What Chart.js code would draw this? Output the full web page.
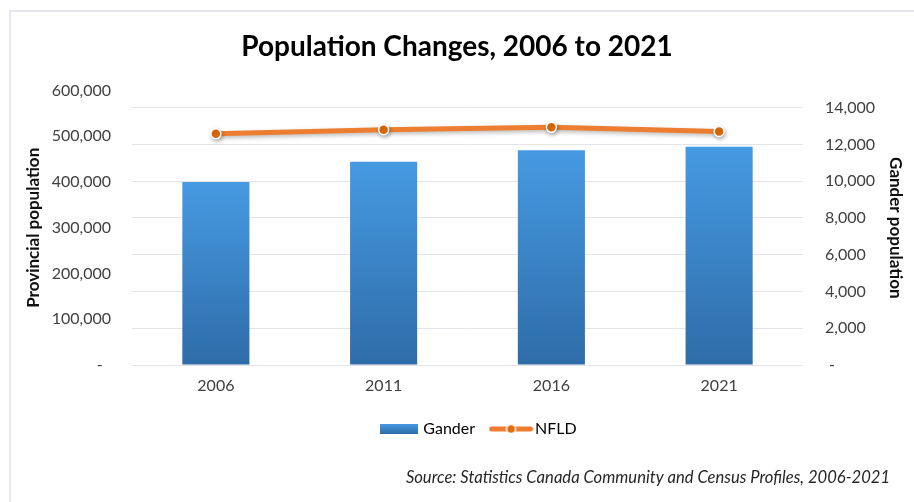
<!DOCTYPE html>
<html>
<head>
<meta charset="utf-8">
<title>Population Changes, 2006 to 2021</title>
<script src="https://cdn.jsdelivr.net/npm/chart.js@4.4.1/dist/chart.umd.min.js"></script>
<style>
    html, body { margin: 0; padding: 0; background: #fff; }
    #wrap { position: relative; width: 914px; height: 502px; overflow: hidden; }
    #frame { position: absolute; left: 9px; top: 10px; right: -10px; bottom: -10px;
             border-left: 2px solid #e6e6ef; border-top: 2px solid #e6e6ef; }
    #chartPop { position: absolute; left: 0; top: 0; }
</style>
</head>
<body>
<div id="wrap">
    <div id="frame"></div>
    <canvas id="chartPop" width="914" height="502"></canvas>
</div>
<script>
// census years and populations
const years = ['2006', '2011', '2016', '2021']
const ganderPop = [9951, 11054, 11688, 11880]
const nfldPop = [505469, 514536, 519716, 510550]

// axis ranges
const provMax = 600000
const provStep = 100000
const ganderMax = 14930
const ganderStep = 2000

const sourceNote = 'Source: Statistics Canada Community and Census Profiles, 2006-2021'

const BAR_TOP = '#469ae2'
const BAR_BOTTOM = '#2e6ca8'
const LINE_COLOR = '#ed7d31'
const POINT_COLOR = '#e46c0a'

Chart.defaults.font.family = 'Lato, "Open Sans", sans-serif'
Chart.defaults.color = '#404040'

// legend swatches
function swatchBar() {
    const c = document.createElement('canvas')
    c.width = 38; c.height = 10
    const x = c.getContext('2d')
    const g = x.createLinearGradient(0, 0, 0, 10)
    g.addColorStop(0, BAR_TOP); g.addColorStop(1, BAR_BOTTOM)
    x.fillStyle = g
    x.fillRect(0, 0, 38, 10)
    return c
}
function swatchLine() {
    const c = document.createElement('canvas')
    c.width = 45; c.height = 12
    const x = c.getContext('2d')
    x.strokeStyle = LINE_COLOR
    x.lineWidth = 5
    x.lineCap = 'round'
    x.beginPath(); x.moveTo(3, 6); x.lineTo(42, 6); x.stroke()
    x.fillStyle = POINT_COLOR
    x.strokeStyle = '#fff'
    x.lineWidth = 1.5
    x.beginPath(); x.arc(22.5, 6, 4.5, 0, Math.PI * 2); x.fill(); x.stroke()
    return c
}

const fmt = (v, zero) => (v === 0 ? zero : v.toLocaleString('en-US'))

// soft drop shadow under the NFLD line
const lineShadow = {
    id: 'lineShadow',
    beforeDatasetDraw(chart, args) {
        if (chart.data.datasets[args.index].type !== 'line') return
        const ctx = chart.ctx
        ctx.save()
        ctx.shadowColor = 'rgba(0,0,0,0.28)'
        ctx.shadowBlur = 4
        ctx.shadowOffsetX = 1
        ctx.shadowOffsetY = 2
    },
    afterDatasetDraw(chart, args) {
        if (chart.data.datasets[args.index].type !== 'line') return
        chart.ctx.restore()
    }
}

// nudge the legend a bit right of the page centre
const legendShift = {
    id: 'legendShift',
    afterLayout(chart) {
        const lg = chart.legend
        if (!lg) return
        lg.left += 23
        lg.right += 23
    }
}

// source line in the bottom right corner
const sourceText = {
    id: 'sourceText',
    afterDraw(chart) {
        const ctx = chart.ctx
        ctx.save()
        ctx.font = 'italic 16.6px Lato, "Open Sans", sans-serif'
        ctx.fillStyle = '#262626'
        ctx.textAlign = 'right'
        ctx.textBaseline = 'middle'
        ctx.fillText(sourceNote, chart.width - 24, 478)
        ctx.restore()
    }
}

new Chart(document.getElementById('chartPop'), {
    data: {
        labels: years,
        datasets: [{
            type: 'bar',
            label: 'Gander',
            data: ganderPop,
            yAxisID: 'y1',
            order: 1,
            backgroundColor: c => {
                const { chart } = c
                if (!chart.chartArea || c.type !== 'data') return BAR_TOP
                const sc = chart.scales.y1
                const g = chart.ctx.createLinearGradient(0, sc.getPixelForValue(c.raw), 0, sc.getPixelForValue(0))
                g.addColorStop(0, BAR_TOP)
                g.addColorStop(1, BAR_BOTTOM)
                return g
            },
            borderWidth: 0,
            categoryPercentage: 1,
            barPercentage: 0.4
        }, {
            type: 'line',
            label: 'NFLD',
            data: nfldPop,
            yAxisID: 'y',
            order: 0,
            borderColor: LINE_COLOR,
            borderWidth: 5,
            borderCapStyle: 'round',
            pointRadius: 5,
            pointBorderWidth: 1.5,
            pointBackgroundColor: POINT_COLOR,
            pointBorderColor: '#fff',
            tension: 0
        }]
    },
    plugins: [lineShadow, legendShift, sourceText],
    options: {
        responsive: false,
        animation: false,
        events: [],
        layout: { padding: { left: 6, right: 6, top: 0, bottom: 55 } },
        scales: {
            x: {
                grid: { display: false, drawTicks: false },
                border: { display: false },
                ticks: { padding: 11, font: { size: 16 }, color: '#404040' },
                afterFit: s => { s.height = 36 }
            },
            y: {
                position: 'left',
                min: 0,
                max: provMax,
                grid: { display: false, drawTicks: false },
                border: { display: false },
                ticks: {
                    stepSize: provStep,
                    padding: 21,
                    font: { size: 16 },
                    color: '#404040',
                    callback: v => fmt(v, '-  ')
                },
                title: {
                    display: true,
                    text: 'Provincial population',
                    color: '#111',
                    font: { size: 17, weight: 'bold' },
                    padding: { top: 17, bottom: 0 }
                },
                afterFit: s => { s.width = 126 }
            },
            y1: {
                position: 'right',
                min: 0,
                max: ganderMax,
                grid: { color: '#e3e3ea', lineWidth: 1, drawTicks: false },
                border: { display: false },
                // ticks every 2,000 up to the last one that fits
                afterBuildTicks: s => {
                    const t = []
                    for (let v = 0; v <= s.max; v += ganderStep) t.push({ value: v })
                    s.ticks = t
                },
                ticks: {
                    padding: 22,
                    font: { size: 16 },
                    color: '#404040',
                    callback: v => fmt(v, ' -')
                },
                title: {
                    display: true,
                    text: 'Gander population',
                    color: '#111',
                    font: { size: 17, weight: 'bold' },
                    padding: { top: 2, bottom: 0 }
                },
                afterFit: s => { s.width = 105 }
            }
        },
        plugins: {
            title: {
                display: true,
                text: 'Population Changes, 2006 to 2021',
                color: '#000',
                font: { size: 28, weight: 'bold' },
                padding: { top: 30, bottom: 27 }
            },
            legend: {
                position: 'bottom',
                labels: {
                    usePointStyle: true,
                    pointStyleWidth: 32,
                    padding: 20,
                    color: '#404040',
                    font: { size: 16 },
                    generateLabels: chart => chart.data.datasets.map((ds, i) => ({
                        text: ds.label,
                        datasetIndex: i,
                        pointStyle: ds.type === 'bar' ? swatchBar() : swatchLine(),
                        fillStyle: 'transparent',
                        strokeStyle: 'transparent',
                        lineWidth: 0
                    }))
                }
            },
            tooltip: { enabled: false }
        }
    }
})
</script>
</body>
</html>
